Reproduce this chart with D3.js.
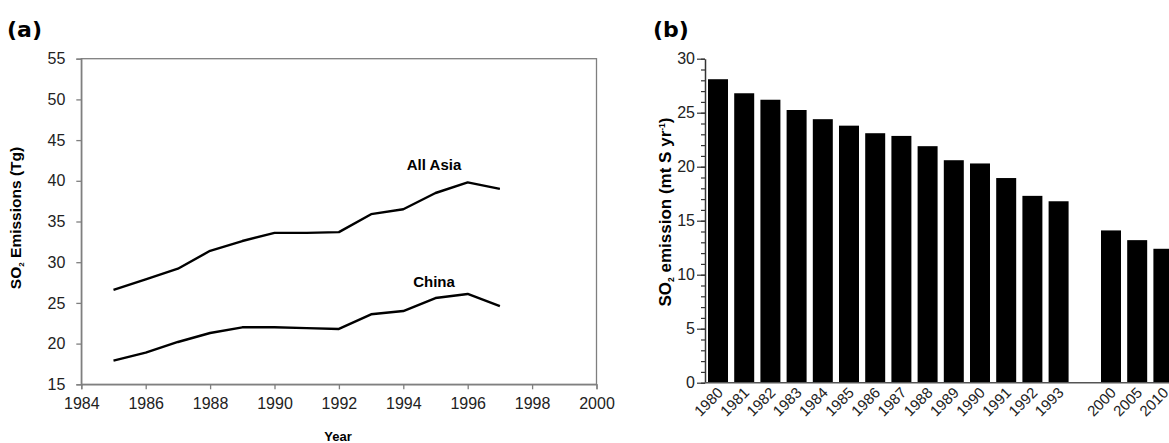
<!DOCTYPE html>
<html>
<head>
<meta charset="utf-8">
<title>SO2 emissions</title>
<style>
  body { margin: 0; background: #fff; }
  text { font-family: "Liberation Sans", Arial, sans-serif; }
</style>
</head>
<body>
<script src="https://cdn.jsdelivr.net/npm/d3@7"></script>
<script>
// ---- data, panel (a)
var years = [1985, 1986, 1987, 1988, 1989, 1990, 1991, 1992, 1993, 1994, 1995, 1996, 1997];
var allAsia = [26.6, 27.9, 29.2, 31.4, 32.6, 33.6, 33.6, 33.7, 35.9, 36.5, 38.5, 39.8, 39.0];
var china = [17.9, 18.9, 20.2, 21.3, 22.0, 22.0, 21.9, 21.8, 23.6, 24.0, 25.6, 26.1, 24.6];
var yTicksA = [15, 20, 25, 30, 35, 40, 45, 50, 55];
var xTicksA = [1984, 1986, 1988, 1990, 1992, 1994, 1996, 1998, 2000];

// ---- data, panel (b)
var barCats = ["1980", "1981", "1982", "1983", "1984", "1985", "1986", "1987", "1988", "1989",
               "1990", "1991", "1992", "1993", "", "2000", "2005", "2010"];
var barVals = [28.1, 26.8, 26.2, 25.25, 24.4, 23.8, 23.1, 22.85, 21.9, 20.6,
               20.3, 18.95, 17.3, 16.8, null, 14.1, 13.2, 12.4];
var yTicksB = [0, 5, 10, 15, 20, 25, 30];

var W = 1169, H = 443;
var svg = d3.select("body").append("svg")
    .attr("width", W).attr("height", H)
    .style("display", "block");

var axisGrey = "#7f7f7f";
var tickFont = "'Liberation Sans', Arial, sans-serif";

// ================= panel (a)
var xA = d3.scaleLinear().domain([1984, 2000]).range([81.3, 596.5]);
var yA = d3.scaleLinear().domain([15, 55]).range([384.3, 58.7]);

svg.append("text").attr("x", 7).attr("y", 37)
    .attr("font-size", 22).attr("font-weight", "bold")
    .style("font-family", "'DejaVu Sans', sans-serif")
    .text("(a)");

var gA = svg.append("g");

// frame
gA.append("rect")
    .attr("x", xA(1984)).attr("y", yA(55))
    .attr("width", xA(2000) - xA(1984)).attr("height", yA(15) - yA(55))
    .attr("fill", "none").attr("stroke", axisGrey).attr("stroke-width", 1.3);

var axA_y = gA.append("g").attr("transform", "translate(" + xA(1984) + ",0)")
    .call(d3.axisLeft(yA).tickValues(yTicksA).tickSize(5).tickPadding(11));
var axA_x = gA.append("g").attr("transform", "translate(0," + yA(15) + ")")
    .call(d3.axisBottom(xA).tickValues(xTicksA).tickFormat(d3.format("d")).tickSize(5).tickPadding(8));
[axA_y, axA_x].forEach(function (g) {
  g.select(".domain").attr("stroke", axisGrey).attr("stroke-width", 1.3);
  g.selectAll(".tick line").attr("stroke", axisGrey).attr("stroke-width", 1.3);
  g.selectAll(".tick text").attr("font-size", 16).attr("fill", "#222")
      .style("font-family", tickFont);
});

var lineA = d3.line()
    .x(function (d, i) { return xA(years[i]); })
    .y(function (d) { return yA(d); });

[allAsia, china].forEach(function (s) {
  gA.append("path").datum(s)
      .attr("d", lineA)
      .attr("fill", "none").attr("stroke", "#000")
      .attr("stroke-width", 2.4).attr("stroke-linejoin", "round");
});

gA.append("text").attr("x", 434).attr("y", 170)
    .attr("text-anchor", "middle").attr("font-size", 15).attr("font-weight", "bold")
    .text("All Asia");
gA.append("text").attr("x", 434).attr("y", 287)
    .attr("text-anchor", "middle").attr("font-size", 15).attr("font-weight", "bold")
    .text("China");

gA.append("text").attr("x", 338).attr("y", 441)
    .attr("text-anchor", "middle").attr("font-size", 13).attr("font-weight", "bold")
    .text("Year");

var ylabA = gA.append("text")
    .attr("transform", "translate(21,218) rotate(-90)")
    .attr("text-anchor", "middle").attr("font-size", 15.5).attr("font-weight", "bold");
ylabA.append("tspan").text("SO");
ylabA.append("tspan").attr("font-size", 8).attr("dy", 3).text("2");
ylabA.append("tspan").attr("dy", -3).text(" Emissions (Tg)");

// ================= panel (b)
var xB = d3.scaleBand().domain(d3.range(barCats.length))
    .range([705, 1176.4]).paddingInner(0.237).paddingOuter(0.115);
var yB = d3.scaleLinear().domain([0, 30]).range([382.7, 58.7]);

svg.append("text").attr("x", 653).attr("y", 37)
    .attr("font-size", 22).attr("font-weight", "bold")
    .style("font-family", "'DejaVu Sans', sans-serif")
    .text("(b)");

var gB = svg.append("g");

gB.selectAll("rect.bar")
    .data(barVals.map(function (v, i) { return { i: i, v: v }; })
        .filter(function (d) { return d.v !== null; }))
  .enter().append("rect")
    .attr("class", "bar")
    .attr("x", function (d) { return xB(d.i); })
    .attr("y", function (d) { return yB(d.v); })
    .attr("width", xB.bandwidth())
    .attr("height", function (d) { return yB(0) - yB(d.v); })
    .attr("fill", "#000");

// minor ticks
var axB_minor = gB.append("g").attr("transform", "translate(705,0)")
    .call(d3.axisLeft(yB).ticks(30).tickSize(4).tickFormat(""));
axB_minor.select(".domain").remove();
axB_minor.selectAll(".tick line").attr("stroke", "#333").attr("stroke-width", 1.2);

var axB_y = gB.append("g").attr("transform", "translate(705,0)")
    .call(d3.axisLeft(yB).tickValues(yTicksB).tickSize(8).tickSizeOuter(0).tickPadding(2));
axB_y.select(".domain").attr("stroke", "#333").attr("stroke-width", 1.5);
axB_y.selectAll(".tick line").attr("stroke", "#333").attr("stroke-width", 1.2);
axB_y.selectAll(".tick text").attr("font-size", 16).attr("fill", "#222")
    .style("font-family", tickFont);

// baseline
gB.append("line")
    .attr("x1", 705).attr("x2", W).attr("y1", yB(0)).attr("y2", yB(0))
    .attr("stroke", "#555").attr("stroke-width", 1.5);

gB.selectAll("text.cat")
    .data(barCats.map(function (c, i) { return { i: i, c: c }; }))
  .enter().append("text")
    .attr("class", "cat")
    .attr("text-anchor", "end")
    .attr("font-size", 15).attr("fill", "#222")
    .attr("transform", function (d) {
      var cx = xB(d.i) + xB.bandwidth() / 2 + 6;
      return "translate(" + cx + "," + (yB(0) + 11) + ") rotate(-45)";
    })
    .text(function (d) { return d.c; });

var ylabB = gB.append("text")
    .attr("transform", "translate(671,212) rotate(-90)")
    .attr("text-anchor", "middle").attr("font-size", 17).attr("font-weight", "bold");
ylabB.append("tspan").text("SO");
ylabB.append("tspan").attr("font-size", 8.5).attr("dy", 3).text("2");
ylabB.append("tspan").attr("dy", -3).text(" emission (mt S yr");
ylabB.append("tspan").attr("font-size", 8.5).attr("dy", -6).text("-1");
ylabB.append("tspan").attr("dy", 6).text(")");
</script>
</body>
</html>
